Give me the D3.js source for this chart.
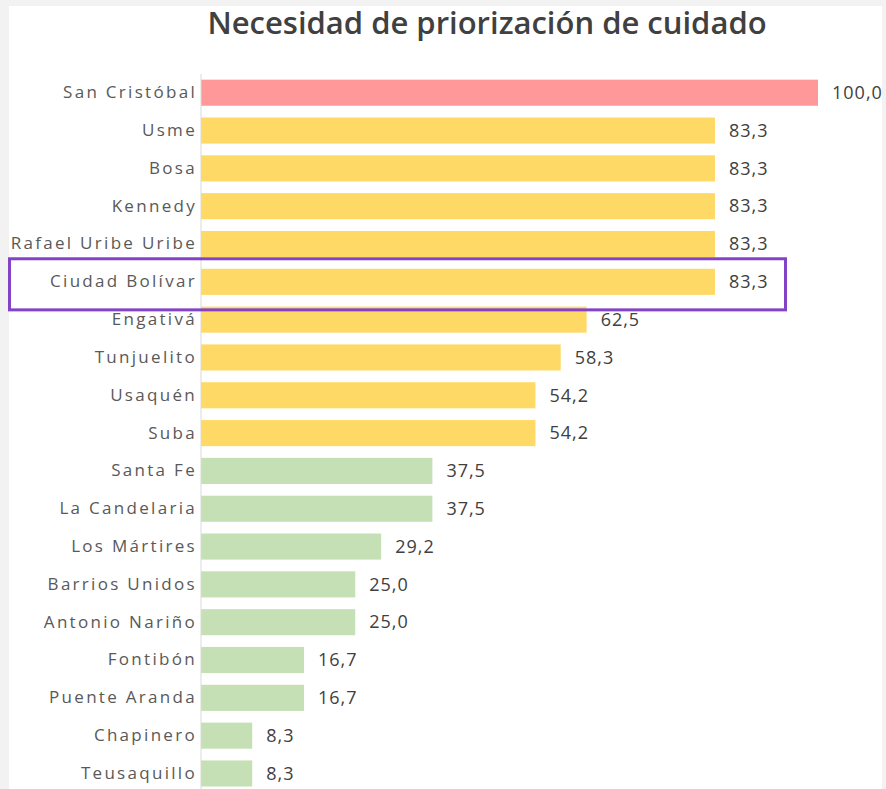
<!DOCTYPE html>
<html>
<head>
<meta charset="utf-8">
<script src="https://cdn.jsdelivr.net/npm/d3@7"></script>
<style>
  body { margin: 0; background: #f2f2f2; }
  svg { display: block; }
</style>
</head>
<body>
<div id="chart"></div>
<script>
// Localidades, ordered as in the picture
const localidades = ['San Cristóbal', 'Usme', 'Bosa', 'Kennedy', 'Rafael Uribe Uribe', 'Ciudad Bolívar',
    'Engativá', 'Tunjuelito', 'Usaquén', 'Suba', 'Santa Fe', 'La Candelaria', 'Los Mártires',
    'Barrios Unidos', 'Antonio Nariño', 'Fontibón', 'Puente Aranda', 'Chapinero', 'Teusaquillo'];
const valores = [100.0, 83.3, 83.3, 83.3, 83.3, 83.3, 62.5, 58.3, 54.2, 54.2, 37.5, 37.5, 29.2,
    25.0, 25.0, 16.7, 16.7, 8.3, 8.3];
// priority group of each bar: alta / media / baja
const grupos = ['alta', 'media', 'media', 'media', 'media', 'media', 'media', 'media', 'media', 'media',
    'baja', 'baja', 'baja', 'baja', 'baja', 'baja', 'baja', 'baja', 'baja'];
const resaltada = 'Ciudad Bolívar';

const width = 886, height = 789;
const margin = [74, -4, 201, 68]; // top, bottom, left, right

const svg = d3.select('#chart').append('svg')
    .attr('width', width).attr('height', height);

// white panel inside the grey frame
svg.append('rect').attr('x', 9).attr('y', 6).attr('width', 873).attr('height', height - 6)
    .attr('fill', '#ffffff');

const data = localidades.map((d, i) => ({ name: d, value: valores[i], group: grupos[i] }));

const scaleX = d3.scaleLinear([0, 100], [margin[2], width - margin[3]]);
const scaleY = d3.scaleBand(localidades, [margin[0], margin[0] + 19 * 37.8]).paddingInner(0.31).paddingOuter(0.15);
const color = d3.scaleOrdinal(['alta', 'media', 'baja'], ['#ff9999', '#ffd966', '#c5e0b4']);

svg.append('text')
    .attr('x', 487).attr('y', 34)
    .attr('text-anchor', 'middle')
    .style('font-family', 'Open Sans, sans-serif')
    .style('font-weight', 600)
    .style('font-size', '31px')
    .attr('fill', '#404040')
    .text('Necesidad de priorización de cuidado');

svg.selectAll('rect.bar')
    .data(data)
    .join('rect')
    .classed('bar', true)
    .attr('x', scaleX(0))
    .attr('y', d => scaleY(d.name))
    .attr('width', d => scaleX(d.value) - scaleX(0))
    .attr('height', scaleY.bandwidth())
    .attr('fill', d => color(d.group));

// category axis
const axisY = svg.append('g')
    .attr('transform', `translate(${scaleX(0)},0)`)
    .call(d3.axisLeft(scaleY).tickSize(0).tickPadding(4));
axisY.select('.domain').attr('stroke', '#d9d9d9').attr('d', `M0,${margin[0]}V${height}`);
axisY.selectAll('text')
    .style('font-family', 'Open Sans, sans-serif')
    .style('font-size', '17px')
    .style('letter-spacing', '2.3px')
    .attr('fill', '#595959');

// value labels
svg.selectAll('text.valor')
    .data(data)
    .join('text')
    .classed('valor', true)
    .attr('x', d => scaleX(d.value) + 14)
    .attr('y', d => scaleY(d.name) + scaleY.bandwidth() / 2)
    .attr('dy', '0.35em')
    .style('font-family', 'Open Sans, sans-serif')
    .style('font-size', '18px')
    .style('letter-spacing', '1px')
    .attr('fill', '#404040')
    .text(d => d3.format('.1f')(d.value).replace('.', ','));

// highlight box
svg.append('rect')
    .attr('x', 9.5)
    .attr('y', scaleY(resaltada) - 10)
    .attr('width', 776)
    .attr('height', scaleY.bandwidth() + 25)
    .attr('fill', 'none')
    .attr('stroke', '#8442c8')
    .attr('stroke-width', 3);
</script>
</body>
</html>
